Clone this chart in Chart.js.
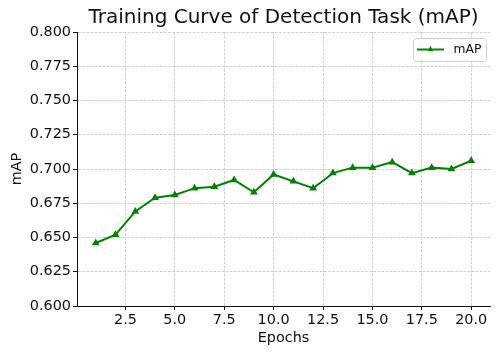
<!DOCTYPE html>
<html>
<head>
<meta charset="utf-8">
<script src="https://cdn.jsdelivr.net/npm/chart.js@4/dist/chart.umd.min.js"></script>
<style>
  html, body { margin: 0; padding: 0; background: #fff; }
  #chart { display: block; }
</style>
</head>
<body>
<canvas id="chart" width="500" height="354"></canvas>
<script>
// data
var epochs = [1, 2, 3, 4, 5, 6, 7, 8, 9, 10, 11, 12, 13, 14, 15, 16, 17, 18, 19, 20];
var mapValues = [0.646, 0.652, 0.669, 0.679, 0.681, 0.686, 0.687, 0.692, 0.683, 0.696,
                 0.691, 0.686, 0.697, 0.701, 0.701, 0.705, 0.697, 0.701, 0.700, 0.706];
var xTicks = [2.5, 5.0, 7.5, 10.0, 12.5, 15.0, 17.5, 20.0];
var seriesLabel = 'mAP';
var chartTitle = 'Training Curve of Detection Task (mAP)';

var GREEN = '#008000';
var FONT = 'DejaVu Sans, sans-serif';
var INK = '#111';

// title centred over the plot area, like matplotlib does it
var plotTitle = {
  id: 'plotTitle',
  afterDraw: function(chart) {
    var ctx = chart.ctx, area = chart.chartArea;
    ctx.save();
    ctx.fillStyle = INK;
    ctx.font = '20px ' + FONT;
    ctx.textAlign = 'center';
    ctx.textBaseline = 'alphabetic';
    ctx.fillText(chartTitle, (area.left + area.right) / 2, 23);
    ctx.restore();
  }
};

// legend box in the upper right corner of the plot
var boxLegend = {
  id: 'boxLegend',
  afterDraw: function(chart) {
    var ctx = chart.ctx, area = chart.chartArea;
    var ds = chart.data.datasets[0];
    var w = 73, h = 23;
    var x = area.right - w - 4, y = area.top + 6;
    ctx.save();
    ctx.beginPath();
    ctx.roundRect(x + 0.5, y + 0.5, w, h, 3);
    ctx.fillStyle = 'rgba(255,255,255,0.8)';
    ctx.fill();
    ctx.strokeStyle = '#d0d0d0';
    ctx.lineWidth = 1;
    ctx.stroke();
    var ly = y + h / 2;
    ctx.beginPath();
    ctx.moveTo(x + 4, ly);
    ctx.lineTo(x + 31, ly);
    ctx.strokeStyle = ds.borderColor;
    ctx.lineWidth = ds.borderWidth;
    ctx.stroke();
    Chart.helpers.drawPoint(ctx, {pointStyle: 'triangle', radius: 3.5, borderWidth: 0}, x + 17.5, ly);
    ctx.fillStyle = ds.borderColor;
    ctx.fill();
    ctx.fillStyle = INK;
    ctx.font = '12.3px ' + FONT;
    ctx.textBaseline = 'middle';
    ctx.textAlign = 'left';
    ctx.fillText(seriesLabel, x + 40.5, ly + 0.5);
    ctx.restore();
  }
};

var gridOpts = {
  color: '#c4c4c4',
  lineWidth: 0.8,
  tickColor: INK,
  tickLength: 4,
  tickWidth: 1,
  tickBorderDash: []
};

new Chart(document.getElementById('chart'), {
  type: 'line',
  data: {
    datasets: [{
      label: seriesLabel,
      data: epochs.map(function(e, i) { return {x: e, y: mapValues[i]}; }),
      borderColor: GREEN,
      backgroundColor: GREEN,
      borderWidth: 2,
      pointStyle: 'triangle',
      pointRadius: 4.5,
      pointBorderWidth: 0,
      pointBackgroundColor: GREEN,
      tension: 0
    }]
  },
  options: {
    responsive: false,
    animation: false,
    layout: { padding: { left: 0, right: 10, top: 32, bottom: 0 } },
    plugins: {
      legend: { display: false },
      tooltip: { enabled: false },
      title: { display: false }
    },
    scales: {
      x: {
        type: 'linear',
        min: 0.05,
        max: 20.95,
        afterBuildTicks: function(scale) {
          scale.ticks = xTicks.map(function(v) { return {value: v}; });
        },
        afterFit: function(scale) { scale.height = 48; },
        ticks: {
          color: INK,
          font: { family: FONT, size: 14.4 },
          padding: 2,
          maxRotation: 0,
          callback: function(v) { return v.toFixed(1); }
        },
        grid: gridOpts,
        border: { display: true, color: INK, width: 1, dash: [2.8, 1.3] },
        title: {
          display: true,
          text: 'Epochs',
          color: INK,
          font: { family: FONT, size: 14.4 },
          padding: { top: 0, bottom: 7.5 }
        }
      },
      y: {
        min: 0.6,
        max: 0.8,
        afterFit: function(scale) { scale.width = 77; },
        ticks: {
          stepSize: 0.025,
          color: INK,
          font: { family: FONT, size: 14.4 },
          padding: 2,
          callback: function(v) { return v.toFixed(3); }
        },
        grid: gridOpts,
        border: { display: true, color: INK, width: 1, dash: [2.8, 1.3] },
        title: {
          display: true,
          text: 'mAP',
          color: INK,
          font: { family: FONT, size: 14.4 },
          padding: { top: 8.5, bottom: 0 }
        }
      }
    }
  },
  plugins: [plotTitle, boxLegend]
});
</script>
</body>
</html>
